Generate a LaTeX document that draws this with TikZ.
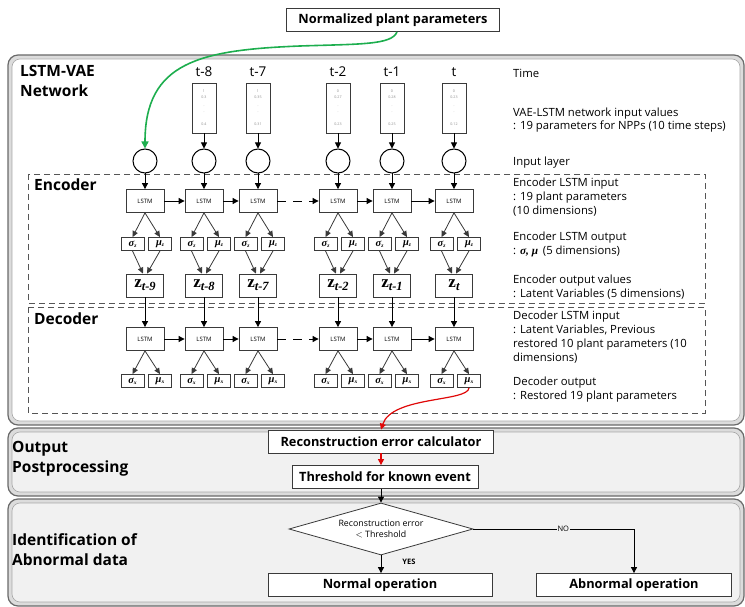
\documentclass[tikz,border=0pt]{standalone}
\usepackage{fontspec}
\setmainfont{Open Sans}
\newfontfamily\serifg{Liberation Serif}
\usetikzlibrary{arrows.meta,shapes.geometric,calc}
\definecolor{panelline}{HTML}{6A6A6A}
\definecolor{panelline2}{HTML}{A8A8A8}
\definecolor{panelfill}{HTML}{F1F1F1}
\definecolor{boxline}{HTML}{3A3A3A}
\definecolor{dashline}{HTML}{555555}
\definecolor{arrgreen}{HTML}{1DAE4E}
\definecolor{arrred}{HTML}{E00808}
\definecolor{tinygray}{HTML}{8A8A8A}
\tikzset{
  pouter/.style={draw=panelline, line width=1.2pt, rounded corners=10pt, fill=panelline2!40},
  pinner/.style={draw=panelline2, line width=0.6pt, rounded corners=8pt},
  dbox/.style={draw=dashline, line width=0.9pt, dash pattern=on 6pt off 4pt},
  box/.style={draw=boxline, line width=0.8pt, fill=white, inner sep=0pt},
  lstm/.style={box, minimum width=38pt, minimum height=23pt, font=\fontsize{6}{6}\selectfont},
  smb/.style={box, minimum width=23pt, minimum height=13pt, font=\serifg\bfseries\itshape\fontsize{10.5}{10.5}\selectfont},
  zb/.style={box, minimum width=37pt, minimum height=23pt, font=\serifg\bfseries\fontsize{17}{17}\selectfont},
  inbox/.style={box, minimum width=24pt, minimum height=50pt},
  circ/.style={circle, draw=black, line width=1pt, minimum size=24pt, inner sep=0pt, fill=white},
  tinyt/.style={inner sep=0pt, text=tinygray, font=\fontsize{3.6}{4}\selectfont},
  timel/.style={inner sep=0pt, font=\fontsize{13.5}{14}\selectfont},
  head/.style={inner sep=0pt, anchor=north west, align=left, font=\bfseries\fontsize{15.5}{20}\selectfont},
  note/.style={inner sep=0pt, anchor=west, align=left, font=\fontsize{11.3}{13.8}\selectfont},
  flowbox/.style={box, minimum height=23pt, font=\bfseries\fontsize{12.8}{12.8}\selectfont},
  arr/.style={-{Triangle[length=6pt,width=6pt]}, line width=0.9pt, draw=black},
  sarr/.style={-{Triangle[length=6pt,width=5.5pt]}, line width=0.8pt, draw=boxline},
  garr/.style={-{Triangle[length=7pt,width=7pt]}, line width=1.6pt, draw=arrgreen},
  rarr/.style={-{Triangle[length=6pt,width=6pt]}, line width=1.2pt, draw=arrred},
}
\begin{document}
\begin{tikzpicture}[x=1pt,y=-1pt]
\useasboundingbox (0,0) rectangle (745,607);
% panels
\draw[pouter] (8,55) rectangle (744,425);
\draw[pinner, fill=white] (12,59) rectangle (740,421);
\draw[pouter] (8,428) rectangle (744,496);
\draw[pinner, fill=panelfill] (12,432) rectangle (740,492);
\draw[pouter] (8,499) rectangle (744,606);
\draw[pinner, fill=panelfill] (12,503) rectangle (740,602);
% dashed boxes
\draw[dbox] (28,174) rectangle (705,303);
\draw[dbox] (28,307) rectangle (705,413);
% headings
\node[head] (hnet) at (20,65) {LSTM-VAE\\Network};
\node[head] (henc) at (34,179) {Encoder};
\node[head] (hdec) at (34,313) {Decoder};
\node[head] (hout) at (12,441) {Output\\Postprocessing};
\node[head] (hid) at (12,533) {Identification of\\Abnormal data};
% top box
\node[flowbox, minimum width=213pt] (top) at (393,20) {Normalized plant parameters};
% columns
\foreach \n/\x/\sb in {0/145/t-9,1/204/t-8,2/258/t-7,3/338/t-2,4/392/t-1,5/454/t}{
  \node[circ] (c\n) at (\x,161) {};
  \node[lstm] (e\n) at (\x,201) {LSTM};
  \node[smb] (es\n) at (\x-12.5,244) {σ\raisebox{-1.5pt}{\fontsize{5.5}{5.5}\selectfont z}};
  \node[smb] (em\n) at (\x+15,244) {μ\raisebox{-1.5pt}{\fontsize{5.5}{5.5}\selectfont z}};
  \node[zb] (z\n) at (\x,285.5) {z\raisebox{-3pt}{\fontsize{12.5}{12.5}\selectfont\itshape \sb}};
  \node[lstm] (d\n) at (\x,339) {LSTM};
  \node[smb] (ds\n) at (\x-12.5,381) {σ\raisebox{-1.5pt}{\fontsize{5.5}{5.5}\selectfont x}};
  \node[smb] (dm\n) at (\x+15,381) {μ\raisebox{-1.5pt}{\fontsize{5.5}{5.5}\selectfont x}};
  \draw[arr] (c\n) -- (e\n);
  \draw[sarr] (e\n.south) -- (es\n.north);
  \draw[sarr] (e\n.south) -- (em\n.north);
  \draw[sarr] (es\n.south) -- ([xshift=-2pt]z\n.north);
  \draw[sarr] (em\n.south) -- ([xshift=2pt]z\n.north);
  \draw[arr] (z\n) -- (d\n);
  \draw[sarr] (d\n.south) -- (ds\n.north);
  \draw[sarr] (d\n.south) -- (dm\n.north);
}
% green arrow
\draw[garr] ([xshift=4pt]top.south) .. controls (392,45) and (360,44) .. (300,46) .. controls (200,50) and (145,62) .. (c0.north);
\foreach \n/\x/\tl/\va/\vb/\vc in {1/204/t-8/1/0.3/0.4, 2/258/t-7/1/0.35/0.31, 3/338/t-2/0/0.27/0.23, 4/392/t-1/0/0.28/0.25, 5/454/t/0/0.23/0.12}{
  \node[timel] (tl\n) at (\x,72) {\tl};
  \node[inbox] (in\n) at (\x,108) {};
  \node[tinyt] (ia\n) at (\x,91) {\va};
  \node[tinyt] (ib\n) at (\x,97) {\vb};
  \node[tinyt] (id\n) at (\x,106) {.};
  \node[tinyt] (ie\n) at (\x,112) {.};
  \node[tinyt] (ic\n) at (\x,124) {\vc};
  \draw[arr] (in\n) -- (c\n);
}
% horizontal LSTM arrows
\foreach \a/\b in {0/1,1/2,3/4,4/5}{
  \draw[arr] (e\a) -- (e\b);
  \draw[arr] (d\a) -- (d\b);
}
\draw[arr, dash pattern=on 9pt off 7pt] (e2) -- (e3);
\draw[arr, dash pattern=on 9pt off 7pt] (d2) -- (d3);
% notes
\node[note] (n1) at (513,73) {Time};
\node[note] (n2) at (513,120) {VAE-LSTM network input values\\: 19 parameters for NPPs (10 time steps)};
\node[note] (n3) at (513,163) {Input layer};
\node[note] (n4) at (513,197) {Encoder LSTM input\\: 19 plant parameters\\(10 dimensions)};
\node[note] (n5) at (513,244.5) {Encoder LSTM output\\: {\serifg\bfseries\itshape σ, μ} \,(5 dimensions)};
\node[note] (n6) at (513,287) {Encoder output values\\: Latent Variables (5 dimensions)};
\node[note] (n7) at (513,337) {Decoder LSTM input\\: Latent Variables, Previous\\restored 10 plant parameters (10\\dimensions)};
\node[note] (n8) at (513,389.5) {Decoder output\\: Restored 19 plant parameters};
% flow
\node[flowbox, minimum width=225pt] (rec) at (381,441.5) {Reconstruction error calculator};
\node[flowbox, minimum width=186pt] (thr) at (385,477) {Threshold for known event};
\node[diamond, draw=boxline, line width=0.8pt, fill=white, aspect=3.54, inner sep=0pt, minimum width=184pt, minimum height=52pt, align=center, font=\fontsize{8.8}{11}\selectfont] (dia) at (381,529) {Reconstruction error\\$<$ Threshold};
\node[flowbox, minimum width=224pt] (nor) at (380,585) {Normal operation};
\node[flowbox, minimum width=195pt] (abn) at (634,585) {Abnormal operation};
\draw[rarr] (dm5.south) .. controls (468,402) and (392,396) .. (rec.north);
\draw[rarr] (rec.south) -- (rec.south |- thr.north);
\draw[arr] (thr.south -| dia.north) -- (dia.north);
\draw[arr] (dia.south) -- (dia.south |- nor.north);
\draw[arr] (dia.east) -| node[pos=0.28, fill=panelfill, inner sep=1pt, font=\fontsize{7.5}{8}\selectfont] (nolab) {NO} (abn.north);
\node[inner sep=0pt, font=\bfseries\fontsize{7.5}{8}\selectfont] (yes) at (409,562) {YES};
\end{tikzpicture}
\end{document}
